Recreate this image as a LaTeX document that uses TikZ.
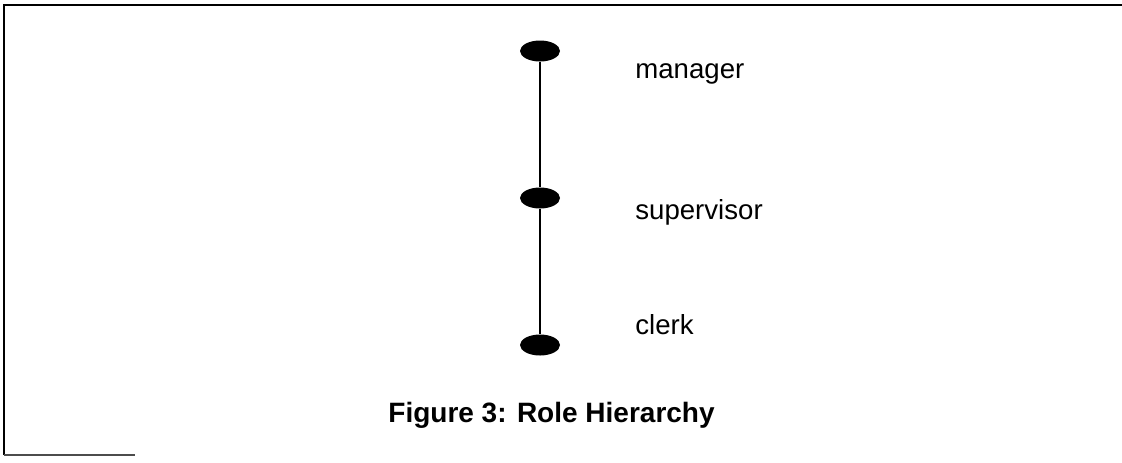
\documentclass[tikz,border=0pt]{standalone}
\usepackage{fontspec}
\setmainfont{Liberation Sans}
\usetikzlibrary{shapes.geometric}

\begin{document}
\begin{tikzpicture}[x=0.5pt, y=-0.5pt,
    role/.style={ellipse, fill=black, inner sep=0pt, minimum width=20pt, minimum height=10.5pt},
    rolename/.style={anchor=base west, inner sep=0pt, font=\fontsize{13.8}{16}\selectfont},
    link/.style={line width=0.8pt}]
        \useasboundingbox (0,0) rectangle (1122,462);

        % Draw the frame
        \draw[line width=1pt] (4,455) -- (4,5) -- (1122,5);
        \draw[line width=0.8pt, black!70] (4,455) -- (135,455);

        % Add roles
        \node[role] (manager) at (540,51) {};
        \node[role] (supervisor) at (540,198) {};
        \node[role] (clerk) at (540,345) {};

        % Draw the hierarchy
        \draw[link] (manager) -- (supervisor);
        \draw[link] (supervisor) -- (clerk);

        % Add role names
        \node[rolename] (managername) at (635,78) {manager};
        \node[rolename] (supervisorname) at (635,219) {supervisor};
        \node[rolename] (clerkname) at (635,334) {clerk};

        % Add caption
        \node[anchor=base west, inner sep=0pt, font=\fontsize{14}{16}\selectfont\bfseries] (caption) at (388,422) {Figure 3: Role Hierarchy};
    \end{tikzpicture}
\end{document}
